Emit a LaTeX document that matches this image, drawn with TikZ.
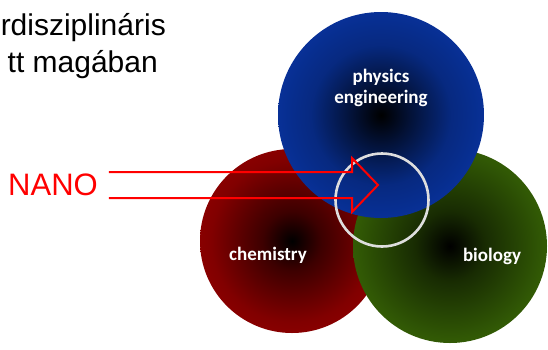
\documentclass[tikz,border=0pt]{standalone}
\usepackage{fontspec}
\setmainfont{Liberation Sans}
\newfontfamily\labelfont{Carlito}
\usepackage{xcolor}
\usepackage{tikz}
\usetikzlibrary{calc}

\definecolor{chemred}{RGB}{152,0,0}
\definecolor{biogreen}{RGB}{60,108,6}
\definecolor{physblue}{RGB}{8,50,156}
\definecolor{ringgray}{RGB}{222,222,222}
\definecolor{nanored}{RGB}{255,0,0}

\pgfdeclareradialshading{chemglow}{\pgfpoint{0bp}{0bp}}{color(0bp)=(black); color(8bp)=(chemred!40!black); color(22bp)=(chemred!85!black); color(32bp)=(chemred); color(50bp)=(chemred)}
\pgfdeclareradialshading{bioglow}{\pgfpoint{0bp}{0bp}}{color(0bp)=(black); color(9bp)=(biogreen!40!black); color(24bp)=(biogreen!82!black); color(35bp)=(biogreen); color(50bp)=(biogreen)}
\pgfdeclareradialshading{physglow}{\pgfpoint{0bp}{0bp}}{color(0bp)=(black); color(7bp)=(physblue!35!black); color(17bp)=(physblue!82!black); color(27bp)=(physblue); color(50bp)=(physblue)}

\begin{document}
\begin{tikzpicture}[
  x=1pt, y=-1pt,
  toptext/.style={font=\fontsize{30}{37}\selectfont, inner sep=0pt, anchor=base east},
  fieldlabel/.style={font=\labelfont\bfseries\fontsize{19}{21}\selectfont, text=white, inner sep=0pt, anchor=base},
  nanoarrow/.style={draw=nanored, line width=2pt, line join=miter}
]
\useasboundingbox (0,0) rectangle (548,349);
% heading (cut off on the left)
\node[toptext] (line1) at (166,35) {rdisziplináris};
\node[toptext] (line2) at (158,72) {tt magában};
% the three fields
\path[shading=chemglow] (292,241) circle (92);
\path[shading=bioglow] (450,246) circle (97);
\path[shading=physglow] (381,115) circle (103);
\node[fieldlabel] (phys) at (381,82) {physics};
\node[fieldlabel] (eng) at (381,103) {engineering};
\node[fieldlabel] (chem) at (268,260) {chemistry};
\node[fieldlabel] (bio) at (492,261) {biology};
% overlap ring
\node[circle, draw=ringgray, line width=2.6pt, minimum size=93pt, inner sep=0pt] (core) at (382,200) {};
% NANO and its arrow
\node[font=\fontsize{31}{31}\selectfont, text=nanored, inner sep=0pt, anchor=west] (nano) at (8,185) {NANO};
\coordinate (tip) at (378,185);
\draw[nanoarrow] ($(nano.east)+(11,-13)$) -- ($(tip)+(-26,-13)$) -- ($(tip)+(-26,-27)$)
  -- (tip) -- ($(tip)+(-26,27)$) -- ($(tip)+(-26,13)$) -- ($(nano.east)+(11,13)$);
\end{tikzpicture}
\end{document}
